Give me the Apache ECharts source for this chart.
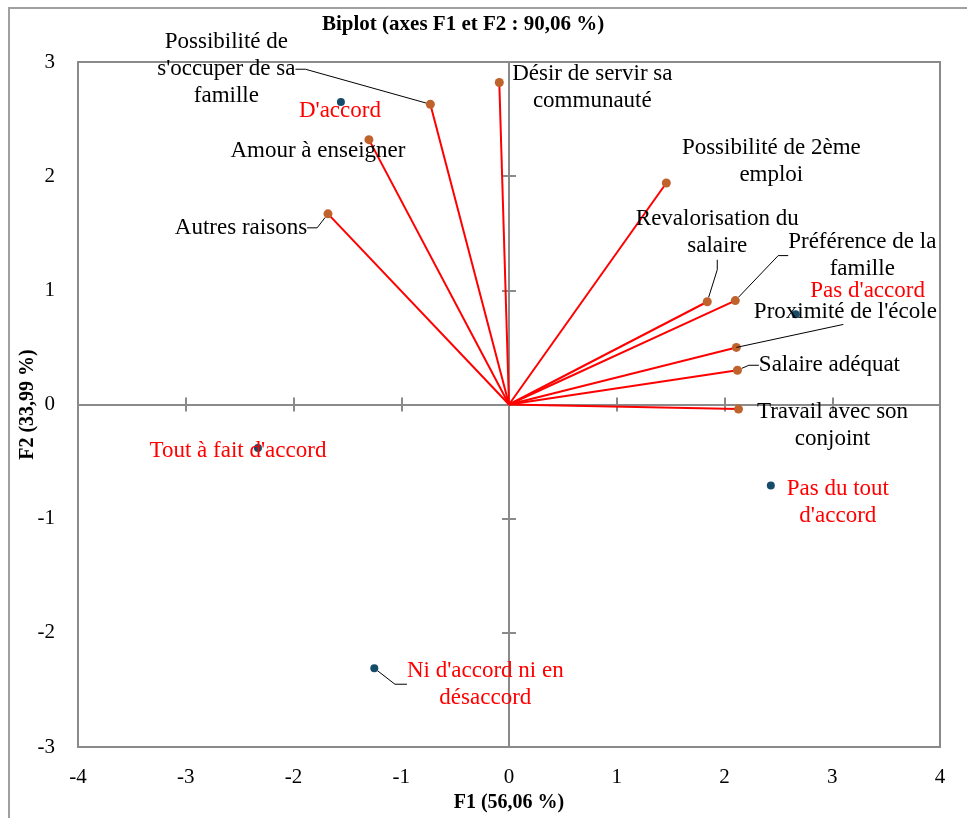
<!DOCTYPE html>
<html>
<head>
<meta charset="utf-8">
<script src="https://cdn.jsdelivr.net/npm/echarts@6/dist/echarts.min.js"></script>
<style>
  html, body { margin: 0; padding: 0; background: #fff; }
  #biplot { width: 967px; height: 818px; }
</style>
</head>
<body>
<div id="biplot"></div>
<script>
  // variables (orange points + red vectors)
  let varNames = [
    "Possibilité de\ns'occuper de sa\nfamille",
    'Désir de servir sa\ncommunauté',
    'Amour à enseigner',
    'Autres raisons',
    'Possibilité de 2ème\nemploi',
    'Revalorisation du\nsalaire',
    'Préférence de la\nfamille',
    "Proximité de l'école",
    'Salaire adéquat',
    'Travail avec son\nconjoint'
  ];
  let varF1 = [-0.73, -0.09, -1.30, -1.68, 1.46, 1.84, 2.10, 2.11, 2.12, 2.13];
  let varF2 = [2.63, 2.82, 2.32, 1.67, 1.94, 0.90, 0.91, 0.50, 0.30, -0.04];

  // observations (blue points)
  let obsNames = [
    "D'accord",
    "Pas d'accord",
    "Tout à fait d'accord",
    "Ni d'accord ni en\ndésaccord",
    "Pas du tout\nd'accord"
  ];
  let obsF1 = [-1.56, 2.66, -2.33, -1.25, 2.43];
  let obsF2 = [2.65, 0.79, -0.38, -2.31, -0.71];

  let xTicks = { min: -4, max: 4, interval: 1 };
  let yTicks = { min: -3, max: 3, interval: 1 };

  // label placement (pixel offset of label centre from its point) and leader lines
  let varLabelOffsets = [[-204, -35], [93, 5], [-51, 11], [-87, 14], [105, -22], [10, -69], [127, -45], [109, -35], [92, -5], [94, 16]];
  let varLeader = [true, false, false, true, false, true, true, false, true, false];
  let obsLabelOffsets = [[-1, 9], [72, -23], [-20, 3], [111, 16], [67, 17]];
  let obsLeader = [false, false, false, true, false];
  // Proximité de l'école: the leader goes to the underside of its label
  let proxLeaderEnd = [107, -23];

  let serif = 'Liberation Serif';
  let axisGray = '#8a8a8a';

  function pointData(names, xs, ys, leaders) {
    return names.map(function (n, i) {
      return { name: n, value: [xs[i], ys[i]], labelLine: { show: leaders[i] } };
    });
  }

  function placeLabel(offsets) {
    return function (p) {
      let o = offsets[p.dataIndex];
      return {
        x: p.rect.x + p.rect.width / 2 + o[0],
        y: p.rect.y + p.rect.height / 2 + o[1],
        align: 'center',
        verticalAlign: 'middle'
      };
    };
  }

  function labelAxis(t, extra) {
    let ax = {
      type: 'value', min: t.min, max: t.max, interval: t.interval,
      axisLine: { show: false, onZero: false },
      axisTick: { show: false },
      splitLine: { show: false },
      nameLocation: 'middle',
      nameMoveOverlap: false,
      nameTextStyle: { fontFamily: serif, fontWeight: 'bold', fontSize: 20, color: '#000' }
    };
    return Object.assign(ax, extra);
  }

  function zeroAxis(t, position, inside) {
    return {
      type: 'value', min: t.min, max: t.max, interval: t.interval,
      position: position,
      axisLine: { show: true, onZero: true, onZeroAxisIndex: 0, lineStyle: { color: axisGray, width: 2 } },
      axisTick: { show: true, inside: inside, length: 7, lineStyle: { color: axisGray, width: 2 } },
      axisLabel: { show: false },
      splitLine: { show: false }
    };
  }

  let vectors = varNames.map(function (n, i) {
    return { coords: [[0, 0], [varF1[i], varF2[i]]] };
  });

  let frame = {
    type: 'rect',
    silent: true,
    z: -10,
    shape: { x: 9, y: 8, width: 1000, height: 900 },
    style: { fill: 'none', stroke: '#a0a0a0', lineWidth: 2 }
  };

  let options = {
    animation: false,
    backgroundColor: '#fff',
    title: {
      text: 'Biplot (axes F1 et F2 : 90,06 %)',
      left: 322,
      top: 14,
      padding: 0,
      textStyle: { fontFamily: serif, fontWeight: 'bold', fontSize: 21, color: '#000' }
    },
    graphic: [frame],
    grid: {
      left: 78, right: 27, top: 62, bottom: 71,
      show: true, borderColor: axisGray, borderWidth: 2
    },
    xAxis: [
      labelAxis(xTicks, {
        position: 'bottom',
        axisLabel: { fontSize: 21, color: '#000', fontFamily: serif, margin: 20 },
        name: 'F1 (56,06 %)',
        nameGap: 46
      }),
      zeroAxis(xTicks, 'bottom', false),
      zeroAxis(xTicks, 'bottom', true)
    ],
    yAxis: [
      labelAxis(yTicks, {
        position: 'left',
        axisLabel: { fontSize: 21, color: '#000', fontFamily: serif, margin: 23 },
        name: 'F2 (33,99 %)',
        nameGap: 40
      }),
      zeroAxis(yTicks, 'left', false),
      zeroAxis(yTicks, 'left', true)
    ],
    series: [
      {
        name: 'vecteurs',
        type: 'lines',
        coordinateSystem: 'cartesian2d',
        z: 1,
        symbol: 'none',
        lineStyle: { color: '#ff0000', width: 2, opacity: 1 },
        data: vectors
      },
      {
        name: 'variables',
        type: 'scatter',
        z: 3,
        symbolSize: 9,
        itemStyle: { color: '#c0622b', opacity: 1 },
        label: {
          show: true,
          formatter: '{b}',
          color: '#000',
          fontSize: 23,
          lineHeight: 27,
          fontFamily: serif
        },
        labelLine: { length2: 10, lineStyle: { color: '#000', width: 1 } },
        labelLayout: placeLabel(varLabelOffsets),
        data: pointData(varNames, varF1, varF2, varLeader)
      },
      {
        name: 'observations',
        type: 'scatter',
        z: 3,
        symbolSize: 8,
        itemStyle: { color: '#164b69', opacity: 1 },
        label: {
          show: true,
          formatter: '{b}',
          color: '#ff0000',
          fontSize: 23,
          lineHeight: 27,
          fontFamily: serif
        },
        labelLine: { length2: 12, lineStyle: { color: '#000', width: 1 } },
        labelLayout: placeLabel(obsLabelOffsets),
        data: pointData(obsNames, obsF1, obsF2, obsLeader)
      }
    ]
  };

  let chart = echarts.init(document.getElementById('biplot'));
  chart.setOption(options);

  // leader line for "Proximité de l'école"
  let p = chart.convertToPixel({ gridIndex: 0 }, [varF1[7], varF2[7]]);
  chart.setOption({
    graphic: [frame, {
      type: 'polyline',
      silent: true,
      z: 5,
      shape: { points: [p, [p[0] + proxLeaderEnd[0], p[1] + proxLeaderEnd[1]]] },
      style: { stroke: '#000', lineWidth: 1, fill: null }
    }]
  });

  window.addEventListener('resize', function () {
    chart.resize();
  });
</script>
</body>
</html>
